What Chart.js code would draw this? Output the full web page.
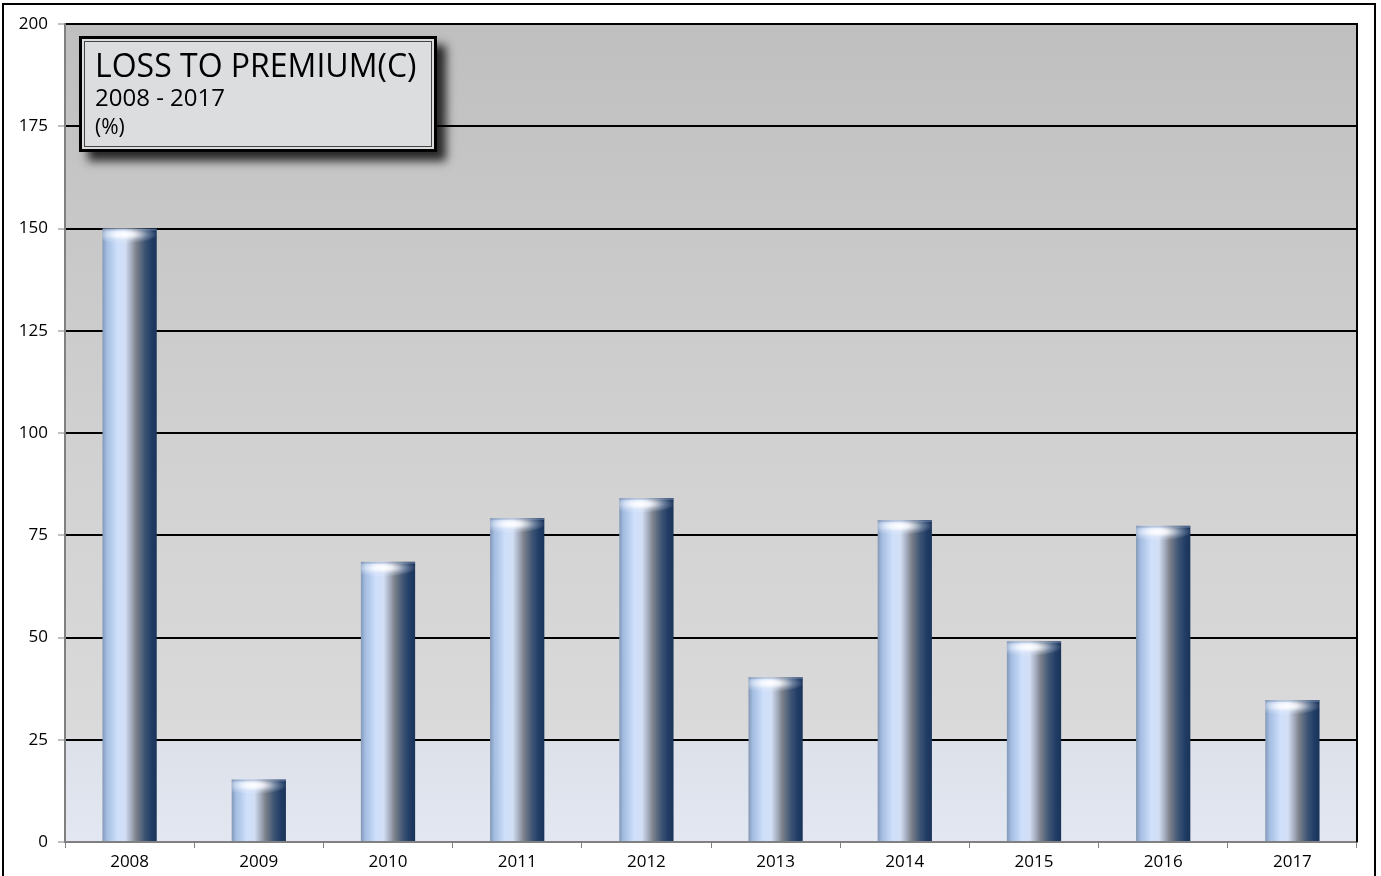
<!DOCTYPE html>
<html>
<head>
<meta charset="utf-8">
<script src="https://cdn.jsdelivr.net/npm/chart.js@4.4.0/dist/chart.umd.min.js"></script>
<style>
  html, body { margin: 0; padding: 0; background: #ffffff; }
  #wrap { width: 1381px; height: 876px; position: relative; }
</style>
</head>
<body>
<div id="wrap"><canvas id="grafico" width="1381" height="876"></canvas></div>
<script>
const anos = ['2008', '2009', '2010', '2011', '2012', '2013', '2014', '2015', '2016', '2017'];
const lossToPremium = [150, 15.3, 68.5, 79.2, 84.1, 40.3, 78.7, 49.1, 77.3, 34.7];
const ticksY = [0, 25, 50, 75, 100, 125, 150, 175, 200];
const titulo = ['LOSS TO PREMIUM(C)', '2008 - 2017', '(%)'];

const fonte = '"Open Sans", "Liberation Sans", sans-serif';
const larguraBarra = 0.42;

// gradiente horizontal de cada barra (efeito cilindro)
function corCilindro(c) {
    const chart = c.chart;
    const xs = chart.scales.x;
    if (!xs || c.dataIndex === undefined) return '#8fa8cc';
    const cx = xs.getPixelForValue(c.dataIndex);
    const w = (xs.right - xs.left) / anos.length * larguraBarra;
    if (!isFinite(cx) || !isFinite(w) || w <= 0) return '#8fa8cc';
    const g = chart.ctx.createLinearGradient(cx - w / 2, 0, cx + w / 2, 0);
    g.addColorStop(0, '#8298b8');
    g.addColorStop(0.08, '#a4bde2');
    g.addColorStop(0.28, '#cfe0fb');
    g.addColorStop(0.42, '#d2def4');
    g.addColorStop(0.52, '#a9b2c4');
    g.addColorStop(0.62, '#7d828c');
    g.addColorStop(0.78, '#3d5474');
    g.addColorStop(0.9, '#213d66');
    g.addColorStop(1, '#1a3358');
    return g;
}

// fundo cinza -> azulado da area do grafico + moldura externa
const fundoPlugin = {
    id: 'fundo',
    beforeDraw(chart) {
        const { ctx, chartArea: a } = chart;
        ctx.save();
        const g = ctx.createLinearGradient(0, a.top, 0, a.bottom);
        g.addColorStop(0, '#bfbfbf');
        g.addColorStop(0.55, '#d2d2d2');
        g.addColorStop(0.87, '#dadada');
        g.addColorStop(0.88, '#dde1ea');
        g.addColorStop(1, '#e3e7f1');
        ctx.fillStyle = g;
        ctx.fillRect(a.left, a.top, a.right - a.left, a.bottom - a.top);
        ctx.restore();
    },
    afterDraw(chart) {
        const { ctx, chartArea: a } = chart;
        ctx.save();
        ctx.strokeStyle = '#000';
        ctx.lineWidth = 2;
        ctx.beginPath();
        ctx.moveTo(a.right, a.top - 1);
        ctx.lineTo(a.right, a.bottom);
        ctx.stroke();
        // moldura da imagem
        ctx.beginPath();
        ctx.moveTo(3, chart.height);
        ctx.lineTo(3, 4);
        ctx.lineTo(1375, 4);
        ctx.lineTo(1375, chart.height);
        ctx.stroke();
        ctx.restore();
    }
};

// brilho eliptico no topo de cada barra
const topoPlugin = {
    id: 'topo',
    afterDatasetsDraw(chart) {
        const { ctx } = chart;
        chart.getDatasetMeta(0).data.forEach(el => {
            const w = el.width, x0 = el.x - w / 2, topo = el.y;
            ctx.save();
            ctx.beginPath();
            ctx.rect(x0, topo, w, 18);
            ctx.clip();
            ctx.fillStyle = 'rgba(110,130,165,0.6)';
            ctx.fillRect(x0, topo, w, 2);
            ctx.translate(el.x - w * 0.1, topo + 6);
            ctx.scale(1, 0.26);
            const r = ctx.createRadialGradient(0, 0, 0, 0, 0, w * 0.62);
            r.addColorStop(0, 'rgba(255,255,255,1)');
            r.addColorStop(0.3, 'rgba(248,250,255,0.85)');
            r.addColorStop(0.7, 'rgba(225,235,250,0.3)');
            r.addColorStop(1, 'rgba(255,255,255,0)');
            ctx.fillStyle = r;
            ctx.beginPath();
            ctx.arc(0, 0, w * 0.62, 0, Math.PI * 2);
            ctx.fill();
            ctx.restore();
        });
    }
};

// caixa do titulo com sombra e borda dupla
const tituloPlugin = {
    id: 'titulo',
    afterDraw(chart) {
        const { ctx } = chart;
        const x = 79, y = 36, w = 358, h = 116;
        ctx.save();
        ctx.shadowColor = 'rgba(0,0,0,0.8)';
        ctx.shadowBlur = 9;
        ctx.shadowOffsetX = 9;
        ctx.shadowOffsetY = 9;
        ctx.fillStyle = '#dcdddf';
        ctx.fillRect(x, y, w, h);
        ctx.restore();

        ctx.save();
        ctx.strokeStyle = '#000';
        ctx.lineWidth = 3;
        ctx.strokeRect(x + 1.5, y + 1.5, w - 3, h - 3);
        ctx.lineWidth = 1;
        ctx.strokeStyle = '#444';
        ctx.strokeRect(x + 5.5, y + 5.5, w - 11, h - 11);

        ctx.fillStyle = '#000';
        ctx.textBaseline = 'alphabetic';
        ctx.textAlign = 'left';
        ctx.font = '32px ' + fonte;
        ctx.fillText(titulo[0], 95, 77);
        ctx.font = '24px ' + fonte;
        ctx.fillText(titulo[1], 95, 106);
        ctx.font = '21px ' + fonte;
        ctx.fillText(titulo[2], 95, 134);
        ctx.restore();
    }
};

const ctx = document.getElementById('grafico').getContext('2d');

new Chart(ctx, {
    type: 'bar',
    data: {
        labels: anos,
        datasets: [{
            label: 'Loss to premium',
            data: lossToPremium,
            backgroundColor: corCilindro,
            borderWidth: 0,
            barPercentage: larguraBarra,
            categoryPercentage: 1
        }]
    },
    options: {
        responsive: false,
        animation: false,
        layout: {
            padding: { top: 24, right: 24, left: 0, bottom: 0 }
        },
        plugins: {
            legend: { display: false },
            tooltip: { enabled: false }
        },
        scales: {
            x: {
                afterFit: s => { s.height = 34; },
                grid: {
                    display: true,
                    drawOnChartArea: false,
                    offset: true,
                    tickColor: '#808080',
                    tickLength: 6,
                    tickWidth: 1
                },
                border: { display: true, color: '#808080', width: 2 },
                ticks: {
                    color: '#000',
                    padding: 4,
                    font: { family: fonte, size: 17 }
                }
            },
            y: {
                min: 0,
                max: 200,
                afterFit: s => { s.width = 65; },
                afterBuildTicks: s => { s.ticks = ticksY.map(v => ({ value: v })); },
                grid: {
                    color: c => (c.tick && c.tick.value === 0) ? 'rgba(0,0,0,0)' : '#000',
                    lineWidth: 2,
                    tickColor: '#808080',
                    tickLength: 7,
                    tickWidth: 1
                },
                border: { display: true, color: '#808080', width: 2 },
                ticks: {
                    color: '#000',
                    padding: 10,
                    font: { family: fonte, size: 17 }
                }
            }
        }
    },
    plugins: [fundoPlugin, topoPlugin, tituloPlugin]
});
</script>
</body>
</html>
